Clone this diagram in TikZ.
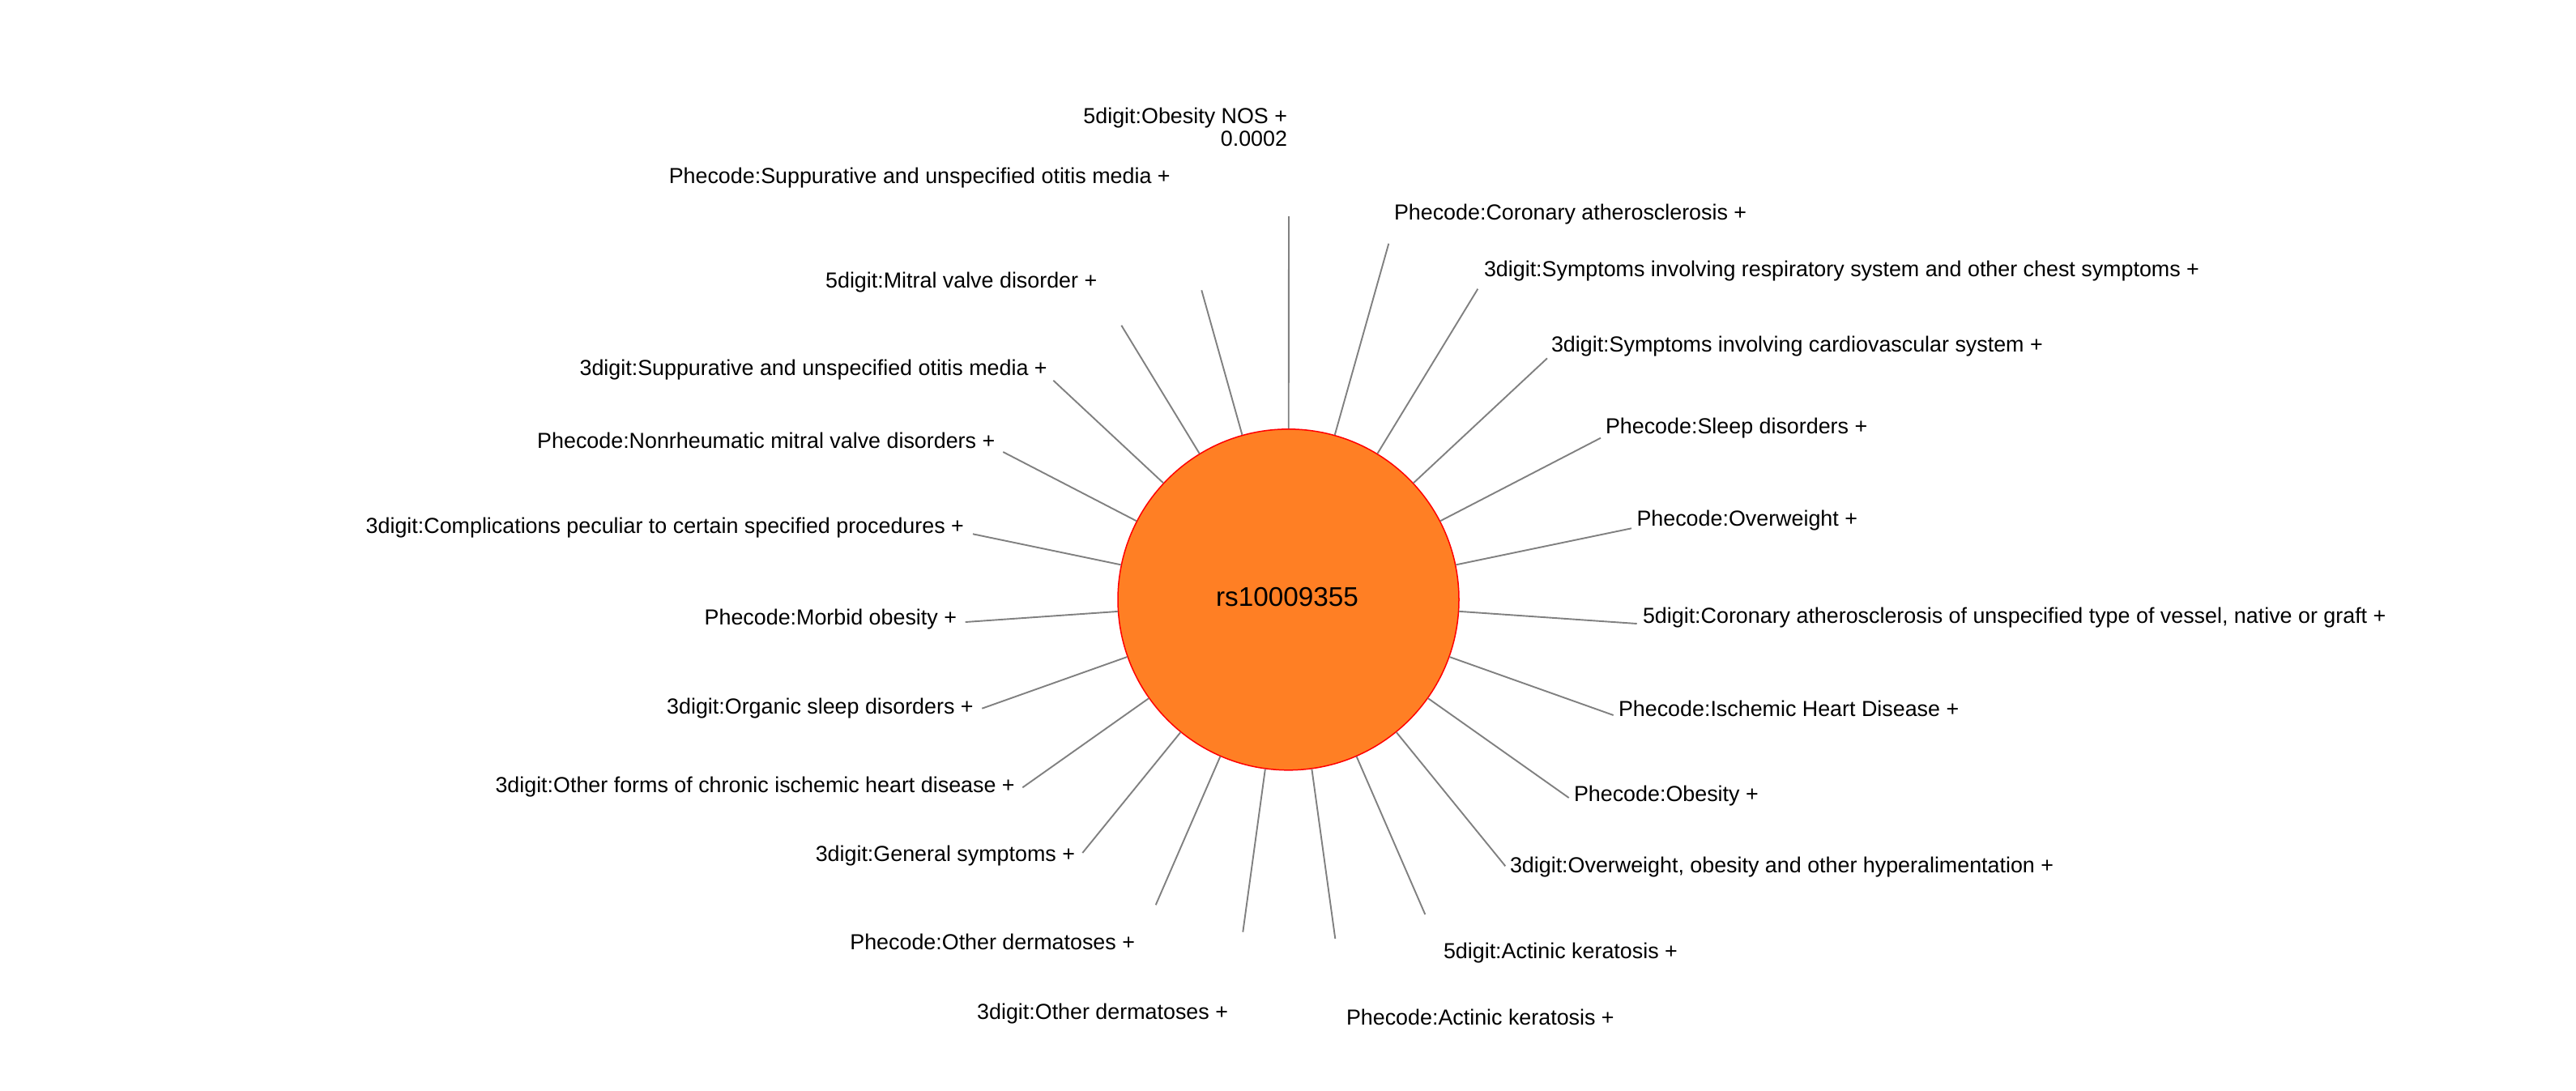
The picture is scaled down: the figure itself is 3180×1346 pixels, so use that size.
\documentclass[tikz,border=0pt]{standalone}
\usepackage{fontspec}
\setmainfont{Liberation Sans}
\definecolor{snpfill}{HTML}{FF7F24}
\definecolor{spokegray}{HTML}{808080}
\begin{document}
\begin{tikzpicture}[x=0.5pt,y=-0.5pt,
  lbl/.style={inner sep=0pt, outer sep=0pt, font=\fontsize{13.43}{14.15}\selectfont},
  lblR/.style={lbl, anchor=base west},
  lblL/.style={lbl, anchor=base east},
  spoke/.style={draw=spokegray, line width=0.95pt},
  hub/.style={circle, draw=red, line width=0.75pt, fill=snpfill, minimum size=210.5pt, inner sep=0pt}]
\useasboundingbox (0,0) rectangle (3180,1346);

% hub
\node[hub] (snp) at (1590.5,740.3) {};
\node[inner sep=0pt, anchor=base, font=\fontsize{16.65}{18}\selectfont] (snplabel) at (1589,748.3) {rs10009355};

% spoke ends
\coordinate (e0) at (1591,267);
\coordinate (e1) at (1714.3,300.7);
\coordinate (e2) at (1824.3,356.7);
\coordinate (e3) at (1910,442.3);
\coordinate (e4) at (1976,540.7);
\coordinate (e5) at (2014,652.3);
\coordinate (e6) at (2020.7,770);
\coordinate (e7) at (1991.7,883);
\coordinate (e8) at (1936.7,985);
\coordinate (e9) at (1858.3,1069.3);
\coordinate (e10) at (1759.3,1129);
\coordinate (e11) at (1648.3,1159);
\coordinate (e12) at (1534.3,1150.7);
\coordinate (e13) at (1426.7,1117.3);
\coordinate (e14) at (1336.3,1053);
\coordinate (e15) at (1262.3,972.3);
\coordinate (e16) at (1212.3,874.7);
\coordinate (e17) at (1191.7,768);
\coordinate (e18) at (1201,659.3);
\coordinate (e19) at (1238.3,558);
\coordinate (e20) at (1300.3,469.7);
\coordinate (e21) at (1384.3,401.7);
\coordinate (e22) at (1483.3,358.3);

\foreach \i in {0,...,22} {\draw[spoke] (snp) -- (e\i);}

% labels
\node[lblL] (l0a) at (1589,152) {5digit:Obesity NOS +};
\node[lblL] (l0b) at (1589,180.5) {0.0002};
\node[lblR] (l1) at (1721,271) {Phecode:Coronary atherosclerosis +};
\node[lblR] (l2) at (1832,341) {3digit:Symptoms involving respiratory system and other chest symptoms +};
\node[lblR] (l3) at (1915,434.5) {3digit:Symptoms involving cardiovascular system +};
\node[lblR] (l4) at (1982,535) {Phecode:Sleep disorders +};
\node[lblR] (l5) at (2020.5,649) {Phecode:Overweight +};
\node[lblR] (l6) at (2028,769) {5digit:Coronary atherosclerosis of unspecified type of vessel, native or graft +};
\node[lblR] (l7) at (1998,884) {Phecode:Ischemic Heart Disease +};
\node[lblR] (l8) at (1943,989) {Phecode:Obesity +};
\node[lblR] (l9) at (1864,1077) {3digit:Overweight, obesity and other hyperalimentation +};
\node[lblR] (l10) at (1782,1183.3) {5digit:Actinic keratosis +};
\node[lblR] (l11) at (1662,1265) {Phecode:Actinic keratosis +};
\node[lblL] (l12) at (1516,1258.3) {3digit:Other dermatoses +};
\node[lblL] (l13) at (1401,1172.7) {Phecode:Other dermatoses +};
\node[lblL] (l14) at (1327,1063.4) {3digit:General symptoms +};
\node[lblL] (l15) at (1252.7,978.7) {3digit:Other forms of chronic ischemic heart disease +};
\node[lblL] (l16) at (1201.7,881) {3digit:Organic sleep disorders +};
\node[lblL] (l17) at (1181,771) {Phecode:Morbid obesity +};
\node[lblL] (l18) at (1190,658) {3digit:Complications peculiar to certain specified procedures +};
\node[lblL] (l19) at (1228.3,553) {Phecode:Nonrheumatic mitral valve disorders +};
\node[lblL] (l20) at (1292.7,463) {3digit:Suppurative and unspecified otitis media +};
\node[lblL] (l21) at (1354.3,355.5) {5digit:Mitral valve disorder +};
\node[lblL] (l22) at (1444.7,226.5) {Phecode:Suppurative and unspecified otitis media +};
\end{tikzpicture}
\end{document}
